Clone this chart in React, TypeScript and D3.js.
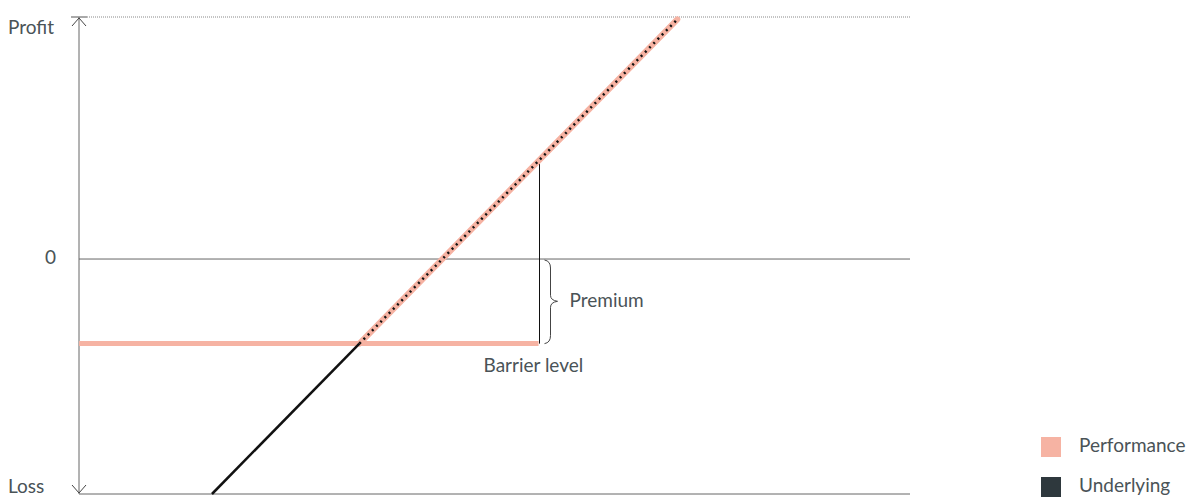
import React from 'react';
import * as d3 from 'd3';

// payoff chart data (abstract units: x = underlying price, y = P&L)
const xDomain = [0, 100];
const yDomain = [-100, 103];
const premium = 36;            // barrier sits this far below zero
const barrierEnd = 55.3;       // x where barrier segment ends
const underlyingX = [16, 72];
const underlyingY = [-100, 102];
const axisLabels = ['Profit', '0', 'Loss'];
const legendNames = ['Performance', 'Underlying'];
const legendColors = ['#f6b3a3', '#2e383d'];

const width = 1191;
const height = 498;
const margin = { top: 17, right: 281, bottom: 4, left: 79 };
const font = 'Lato, "Open Sans", sans-serif';
const textColor = '#4a5357';
const fs = 19;

export default function App() {
  const x = d3.scaleLinear().domain(xDomain).range([margin.left, width - margin.right]);
  const y = d3.scaleLinear().domain(yDomain).range([height - margin.bottom, margin.top]);

  const slope = (underlyingY[1] - underlyingY[0]) / (underlyingX[1] - underlyingX[0]);
  const yAt = (v: number) => underlyingY[0] + slope * (v - underlyingX[0]);
  const xAt = (v: number) => underlyingX[0] + (v - underlyingY[0]) / slope;
  const cross = xAt(-premium);

  const line = d3.line<[number, number]>().x(d => x(d[0])).y(d => y(d[1]));
  const below: [number, number][] = [[underlyingX[0], underlyingY[0]], [cross, -premium]];
  const above: [number, number][] = [[cross, -premium], [underlyingX[1], underlyingY[1]]];
  const barrier: [number, number][] = [[xDomain[0], -premium], [barrierEnd, -premium]];

  const x0 = x(xDomain[0]);
  const x1 = x(xDomain[1]);
  const yTop = y(yDomain[1]);
  const yBot = y(yDomain[0]);
  const yZero = y(0);
  const yBar = y(-premium);
  const xBar = Math.round(x(barrierEnd)) + 0.5;

  // curly brace between zero and barrier
  const bx = xBar + 5;
  const mid = (yZero + yBar) / 2;
  const brace = `M${bx},${yZero + 1} q6,1 6,8 L${bx + 6},${mid - 6} q0,5 7,6 q-7,1 -7,6 L${bx + 6},${yBar - 8} q0,7 -6,8`;

  return (
    <svg width={width} height={height} style={{ position: 'absolute', left: 0, top: 0 }}
      fontFamily={font}>
      {/* top dotted guide */}
      <line x1={x0 + 8} x2={x1} y1={yTop} y2={yTop} stroke="#888" strokeWidth={1} strokeDasharray="1,1" />
      <line x1={x0 - 8} x2={x0 + 8} y1={yTop} y2={yTop} stroke="#555" strokeWidth={1} />
      {/* zero + bottom lines */}
      <line x1={x0} x2={x1} y1={yZero} y2={yZero} stroke="#666" strokeWidth={1} />
      <line x1={x0} x2={x1} y1={yBot} y2={yBot} stroke="#666" strokeWidth={1} />
      {/* vertical axis with arrows */}
      <line x1={x0} x2={x0} y1={yTop} y2={yBot} stroke="#666" strokeWidth={1} />
      <path d={`M${x0 - 7},${yTop + 9} L${x0},${yTop + 1} L${x0 + 7},${yTop + 9}`} fill="none" stroke="#444" strokeWidth={1} />
      <path d={`M${x0 - 7},${yBot - 9} L${x0},${yBot - 1} L${x0 + 7},${yBot - 9}`} fill="none" stroke="#444" strokeWidth={1} />

      {/* axis labels */}
      <text x={8} y={yTop + 12} fontSize={fs} fill={textColor} dominantBaseline="middle">{axisLabels[0]}</text>
      <text x={45} y={yZero} fontSize={fs} fill={textColor} dominantBaseline="middle">{axisLabels[1]}</text>
      <text x={8} y={yBot - 6} fontSize={fs} fill={textColor} dominantBaseline="middle">{axisLabels[2]}</text>

      {/* barrier line and marker */}
      <path d={line(barrier) ?? ''} stroke={legendColors[0]} strokeWidth={5} fill="none" />
      <line x1={xBar} x2={xBar} y1={yBar} y2={y(yAt(barrierEnd))} stroke="#111" strokeWidth={1} />
      <path d={brace} fill="none" stroke="#444" strokeWidth={1} />
      <text x={bx + 25} y={mid + 1} fontSize={fs} fill={textColor} dominantBaseline="middle">Premium</text>
      <text x={xBar - 56} y={yBar + 24} fontSize={fs} fill={textColor} dominantBaseline="middle">Barrier level</text>

      {/* performance + underlying */}
      <path d={line(above) ?? ''} stroke={legendColors[0]} strokeWidth={6} strokeLinecap="round" fill="none" />
      <path d={line(above) ?? ''} stroke="#111" strokeWidth={2.5} strokeDasharray="2,4" fill="none" />
      <path d={line(below) ?? ''} stroke="#111" strokeWidth={2.5} fill="none" />

      {/* legend */}
      {legendNames.map((name, i) => (
        <g key={name} transform={`translate(1041, ${437 + i * 40})`}>
          <rect width={20} height={20} fill={legendColors[i]} />
          <text x={38} y={10} fontSize={fs} fill={textColor} dominantBaseline="middle">{name}</text>
        </g>
      ))}
    </svg>
  );
}
